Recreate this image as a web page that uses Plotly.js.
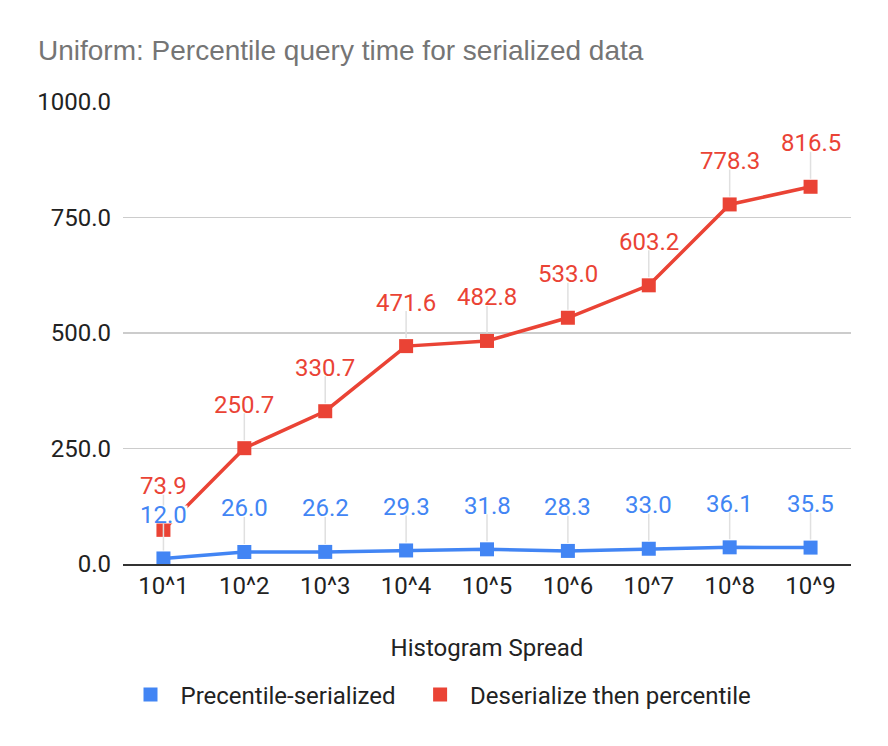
<!DOCTYPE html>
<html>
<head>
<meta charset="utf-8">
<script src="https://cdn.plot.ly/plotly-3.0.1.min.js"></script>
<style>html,body{margin:0;padding:0;background:#fff;}#chart{width:888px;height:746px;}</style>
</head>
<body>
<div id="chart"></div>
<script>
const categories = ["10^1","10^2","10^3","10^4","10^5","10^6","10^7","10^8","10^9"];
const percentileSerialized = [12.0, 26.0, 26.2, 29.3, 31.8, 28.3, 33.0, 36.1, 35.5];
const deserializeThenPercentile = [73.9, 250.7, 330.7, 471.6, 482.8, 533.0, 603.2, 778.3, 816.5];
const seriesNames = ["Precentile-serialized", "Deserialize then percentile"];
const yTicks = [0, 250, 500, 750, 1000];

const BLUE = "#4285F4", RED = "#EA4335";
const FONT = "Roboto, Arial, sans-serif";
const TFONT = "'Liberation Sans', Arial, sans-serif";

function lineTrace(vals, color) {
  return {
    x: categories, y: vals, type: "scatter", mode: "lines+markers",
    line: {color: color, width: 3.5},
    marker: {color: color, symbol: "square", size: 14},
    showlegend: false, hoverinfo: "skip"
  };
}
function legendTrace(name, color, legendId) {
  return {
    x: [null], y: [null], type: "scatter", mode: "markers", name: name,
    marker: {color: color, symbol: "square", size: 14}, showlegend: true,
    legend: legendId
  };
}

const data = [
  lineTrace(percentileSerialized, BLUE),
  lineTrace(deserializeThenPercentile, RED),
  legendTrace(seriesNames[0], BLUE, "legend"),
  legendTrace(seriesNames[1], RED, "legend2")
];

function labels(vals, color) {
  return vals.map((v, i) => ({
    x: categories[i], y: v, xref: "x", yref: "y",
    text: v.toFixed(1), showarrow: true, arrowhead: 0, arrowwidth: 1.5,
    arrowcolor: "#e0e0e0", ax: 0, ay: -44, standoff: 8,
    font: {family: FONT, size: 24, color: color},
    bgcolor: "rgba(255,255,255,1)", borderpad: 0, height: 17
  }));
}

function legendBox(leftPx) {
  return {
    orientation: "h", x: (leftPx - 122.5) / 729, xanchor: "left",
    y: (564 - 695) / 462, yanchor: "middle",
    font: {family: FONT, size: 24, color: "#222"},
    itemwidth: 50, bgcolor: "rgba(0,0,0,0)"
  };
}

const layout = {
  width: 888, height: 746,
  paper_bgcolor: "#fff", plot_bgcolor: "#fff",
  margin: {l: 122.5, r: 36.5, t: 102, b: 182, autoexpand: false},
  font: {family: FONT, color: "#222"},
  title: {
    text: "Uniform: Percentile query time for serialized data",
    font: {family: TFONT, size: 28, color: "#757575"},
    xref: "container", x: 38/888, xanchor: "left",
    yref: "container", y: 1 - 50/746, yanchor: "middle"
  },
  xaxis: {
    type: "category", range: [-0.5, 8.5],
    showgrid: false, zeroline: false,
    showline: true, linecolor: "#333", linewidth: 1.5,
    ticks: "", tickangle: 0, automargin: false,
    tickfont: {family: FONT, size: 24, color: "#222"},
    title: {text: "Histogram Spread", font: {family: FONT, size: 24, color: "#222"}, standoff: 40}
  },
  yaxis: {
    range: [0, 1000], tickvals: yTicks, tickformat: ".1f",
    showgrid: true, gridcolor: "#cccccc", gridwidth: 1.5,
    zeroline: false, showline: false, ticks: "", automargin: false,
    ticklabelstandoff: 11,
    tickfont: {family: FONT, size: 24, color: "#222"}
  },
  legend: legendBox(120),
  legend2: legendBox(410),
  annotations: labels(deserializeThenPercentile, RED).concat(labels(percentileSerialized, BLUE)),
  showlegend: true
};

Plotly.newPlot("chart", data, layout, {displayModeBar: false, staticPlot: true});
</script>
</body>
</html>
